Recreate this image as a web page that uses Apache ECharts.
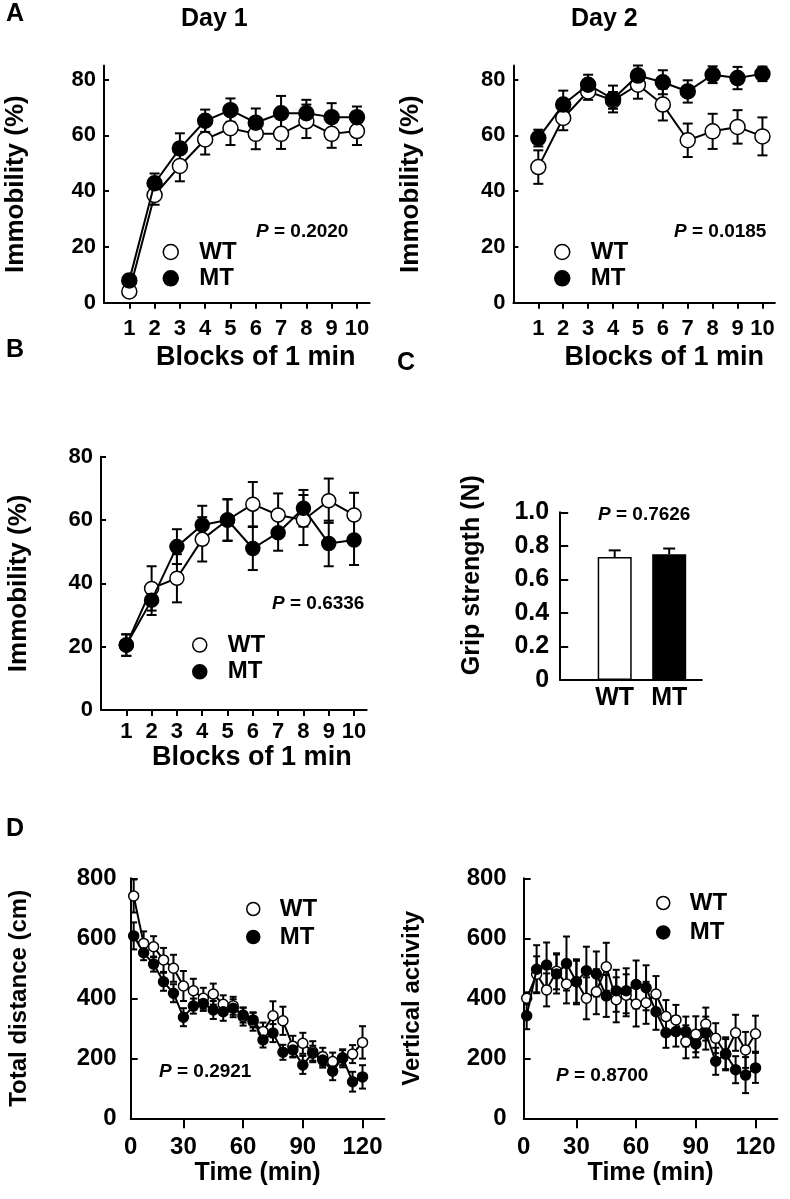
<!DOCTYPE html>
<html><head><meta charset="utf-8">
<script src="https://cdn.jsdelivr.net/npm/echarts@6/dist/echarts.min.js"></script>
<style>html,body{margin:0;padding:0;background:#fff}#c{width:790px;height:1199px}</style>
</head><body><div id="c"></div>
<script>
// ---------- data ----------
const blocks = [1,2,3,4,5,6,7,8,9,10];
const day1WT    = [4, 38.6, 49, 58.5, 62.5, 60.5, 60.5, 65, 60.5, 61.5];
const day1WTerr = [1.5, 3.5, 5.5, 5.4, 6, 5.5, 5.4, 6, 5, 5];
const day1MT    = [8, 42.8, 55.3, 65.2, 69, 64.5, 67.9, 67.9, 66.5, 66.5];
const day1MTerr = [2, 3.5, 5.4, 4, 4.2, 5.1, 6.2, 4.8, 5, 3.8];
const day2WT    = [48.6, 66.2, 75.7, 72.5, 78.1, 71, 58.2, 61.4, 63, 59.6];
const day2WTerr = [6, 4.4, 3, 3, 5, 5.7, 6, 6.3, 6, 6.8];
const day2MT    = [59, 71, 78.1, 73, 81.4, 79, 75.7, 81.7, 80.5, 82];
const day2MTerr = [3, 5, 3.6, 4.8, 3.6, 4.3, 4, 3, 4, 2.6];
const bWT    = [20.5, 38.4, 41.6, 53.9, 60, 65, 61.6, 60, 66.1, 61.6];
const bWTerr = [3.4, 7, 7.6, 7, 6.5, 7, 6.8, 7.9, 7, 7];
const bMT    = [20.5, 34.7, 51.6, 58.4, 60, 51, 56, 63.7, 52.6, 53.7];
const bMTerr = [3.4, 4.7, 5.5, 6.1, 6.6, 6.8, 5.7, 5.8, 7.2, 7.9];
const gripGroups = ['WT', 'MT'];
const gripMean = [0.733, 0.75];
const gripErr  = [0.04, 0.034];
const times = [5,10,15,20,25,30,35,40,45,50,55,60,65,70,75,80,85,90,95,100,105,110,115,120];
const distWT    = [741, 583, 572, 528, 500, 441, 425, 400, 414, 380, 375, 339, 322, 289, 342, 325, 240, 250, 222, 205, 189, 200, 214, 253];
const distWTerr = [55, 40, 35, 40, 45, 50, 40, 35, 35, 30, 30, 30, 30, 30, 48, 47, 35, 35, 35, 30, 30, 30, 30, 54];
const distMT    = [608, 552, 514, 455, 417, 337, 374, 383, 361, 355, 367, 344, 328, 261, 284, 220, 228, 178, 217, 194, 157, 202, 122, 138];
const distMTerr = [45, 25, 25, 30, 30, 30, 25, 25, 30, 30, 30, 25, 25, 25, 30, 25, 25, 30, 25, 25, 30, 25, 33, 39];
const vertWT    = [400, 480, 428, 490, 448, 455, 400, 422, 505, 395, 410, 381, 385, 414, 339, 328, 255, 280, 314, 267, 215, 285, 228, 282];
const vertWTerr = [20, 60, 55, 60, 65, 70, 70, 75, 80, 75, 70, 75, 70, 60, 55, 50, 55, 60, 55, 50, 55, 60, 60, 60];
const vertMT    = [342, 497, 511, 481, 516, 455, 492, 481, 408, 425, 425, 446, 435, 355, 285, 289, 289, 248, 284, 190, 214, 162, 144, 168];
const vertMTerr = [45, 80, 75, 65, 90, 75, 80, 75, 70, 70, 75, 80, 75, 60, 50, 50, 50, 45, 55, 45, 50, 45, 60, 50];
const immTicks = [0, 20, 40, 60, 80];
const timeTicks = [30, 60, 90, 120];
const pValues = ['0.2020', '0.0185', '0.6336', '0.7626', '0.2921', '0.8700'];

// ---------- helpers ----------
const FONT = '"Liberation Sans", Arial, Helvetica, sans-serif';
const BLACK = '#000';
const bold = (size) => ({fontFamily: FONT, fontWeight: 'bold', fontSize: size, color: BLACK});
const pairs = (xs, ys) => xs.map((x, i) => [x, ys[i]]);

function errSeries(idx, xs, ys, es, cap, upOnly) {
  return {
    type: 'custom', xAxisIndex: idx, yAxisIndex: idx, z: 2, silent: true, animation: false,
    data: xs.map((x, i) => [x, upOnly ? ys[i] : ys[i] - es[i], ys[i] + es[i]]),
    renderItem(params, api) {
      const x = api.value(0);
      const lo = api.coord([x, api.value(1)]);
      const hi = api.coord([x, api.value(2)]);
      const st = {stroke: BLACK, lineWidth: 2};
      const ch = [
        {type: 'line', shape: {x1: lo[0], y1: lo[1], x2: hi[0], y2: hi[1]}, style: st},
        {type: 'line', shape: {x1: hi[0] - cap, y1: hi[1], x2: hi[0] + cap, y2: hi[1]}, style: st}
      ];
      if (!upOnly) ch.push({type: 'line', shape: {x1: lo[0] - cap, y1: lo[1], x2: lo[0] + cap, y2: lo[1]}, style: st});
      return {type: 'group', children: ch};
    }
  };
}
function lineSeries(idx, name, xs, ys, size, filled) {
  return {
    type: 'line', name, xAxisIndex: idx, yAxisIndex: idx, data: pairs(xs, ys),
    symbol: 'circle', symbolSize: size, showSymbol: true, showAllSymbol: true, z: filled ? 4 : 3,
    lineStyle: {color: BLACK, width: 2},
    itemStyle: {color: filled ? BLACK : '#fff', borderColor: BLACK, borderWidth: 1.5},
    emphasis: {disabled: true}, animation: false
  };
}
const axLine = {show: true, onZero: false, lineStyle: {color: BLACK, width: 2}};

function blockX(idx, margin, nameGap, shift) {
  return {
    type: 'value', gridIndex: idx, min: 0, max: 10.5,
    axisLine: axLine,
    axisTick: {show: true, customValues: blocks, length: 6, lineStyle: {color: BLACK, width: 2}},
    axisLabel: {customValues: blocks, margin: margin, ...bold(22)},
    splitLine: {show: false},
    name: 'Blocks of 1 min', nameLocation: 'middle', nameGap: nameGap,
    nameTextStyle: {...bold(27), padding: [0, 0, 0, shift]}
  };
}
function immY(idx, max, nameGap) {
  return {
    type: 'value', gridIndex: idx, min: 0, max: max,
    axisLine: axLine,
    axisTick: {show: true, inside: true, customValues: immTicks, length: 5, lineStyle: {color: BLACK, width: 2}},
    axisLabel: {customValues: immTicks, margin: 8, ...bold(22)},
    splitLine: {show: false},
    name: 'Immobility (%)', nameLocation: 'middle', nameGap: nameGap, nameTextStyle: bold(26)
  };
}
function timeX(idx) {
  const start = 3.5;
  return {
    type: 'value', gridIndex: idx, min: start, max: 131,
    axisLine: axLine,
    axisTick: {show: true, customValues: timeTicks, length: 10, lineStyle: {color: BLACK, width: 2}},
    axisLabel: {customValues: [start].concat(timeTicks), formatter: v => (v === start ? '0' : String(v)), margin: 17, ...bold(24)},
    splitLine: {show: false},
    name: 'Time (min)', nameLocation: 'middle', nameGap: 41, nameTextStyle: bold(25)
  };
}
function dY(idx, name, margin, nameGap) {
  return {
    type: 'value', gridIndex: idx, min: 0, max: 800, interval: 200,
    axisLine: axLine,
    axisTick: {show: true, inside: true, length: 7, lineStyle: {color: BLACK, width: 2}},
    axisLabel: {margin: margin, ...bold(24)},
    splitLine: {show: false},
    name: name, nameLocation: 'middle', nameGap: nameGap, nameTextStyle: bold(24)
  };
}
function legend(left, top, size, gap, pad, font) {
  return {
    left, top, orient: 'vertical', icon: 'circle', itemWidth: size, itemHeight: size, itemGap: gap,
    data: ['WT', 'MT'], selectedMode: false, padding: 0,
    itemStyle: {borderColor: BLACK, borderWidth: 1.5},
    textStyle: {...bold(font), padding: [0, 0, 0, pad], lineHeight: font}
  };
}
function pText(x, y, v) {
  return {type: 'text', left: x, top: y, style: {
    text: '{i|P} = ' + v, font: 'bold 19px ' + FONT, fill: BLACK,
    rich: {i: {fontStyle: 'italic', fontWeight: 'bold', fontSize: 19, fontFamily: FONT, fill: BLACK}}
  }};
}
function label(x, y, t, size) {
  return {type: 'text', left: x, top: y, style: {text: t, font: 'bold ' + size + 'px ' + FONT, fill: BLACK}};
}

const chart = echarts.init(document.getElementById('c'));
chart.setOption({
  backgroundColor: '#fff',
  animation: false,
  grid: [
    {left: 104, top: 65.5, width: 265.6, height: 237.2},
    {left: 513.4, top: 65.5, width: 261.5, height: 237.2},
    {left: 101, top: 456.7, width: 265.7, height: 253.3},
    {left: 560.2, top: 512.3, width: 141.7, height: 167.7},
    {left: 130.7, top: 878.3, width: 253.7, height: 240},
    {left: 523.7, top: 878.3, width: 253.7, height: 240}
  ],
  xAxis: [
    blockX(0, 15, 41, 38), blockX(1, 15, 41, 40), blockX(2, 11, 34, 36),
    {type: 'value', gridIndex: 3, min: 0, max: 2.6, axisLine: axLine, axisTick: {show: false},
     axisLabel: {customValues: [1, 2], formatter: v => gripGroups[v - 1], margin: 6, ...bold(25)}, splitLine: {show: false}},
    timeX(4), timeX(5)
  ],
  yAxis: [
    immY(0, 85, 75), immY(1, 85, 90), immY(2, 80, 69),
    {type: 'value', gridIndex: 3, min: 0, max: 1, interval: 0.2, axisLine: axLine,
     axisTick: {show: true, inside: true, length: 8, lineStyle: {color: BLACK, width: 2}},
     axisLabel: {formatter: v => (v === 0 ? '0' : v.toFixed(1)), margin: 11, ...bold(25)}, splitLine: {show: false},
     name: 'Grip strength (N)', nameLocation: 'middle', nameGap: 76, nameTextStyle: {...bold(25), padding: [0, 0, 0, 42]}},
    dY(4, 'Total distance (cm)', 14, 99), dY(5, 'Vertical activity', 17, 99)
  ],
  legend: [
    legend(162.5, 240, 15, 2.3, 16, 24),
    legend(554, 240, 15, 2.3, 16, 24),
    legend(192, 633, 14, 2.7, 16, 24),
    legend(246, 897, 13, 4, 15, 24),
    legend(656, 891, 13, 5.4, 15, 24)
  ],
  graphic: [
    label(6, 2, 'A', 25), label(6, 338, 'B', 25), label(397, 351, 'C', 25), label(6, 817, 'D', 25),
    label(181, 7, 'Day 1', 25), label(571, 7, 'Day 2', 25),
    pText(256, 222, pValues[0]), pText(674, 222, pValues[1]), pText(272, 594, pValues[2]),
    pText(598, 505, pValues[3]), pText(159, 1062, pValues[4]), pText(556, 1066, pValues[5])
  ],
  series: [
    errSeries(0, blocks, day1WT, day1WTerr, 5), errSeries(0, blocks, day1MT, day1MTerr, 5),
    lineSeries(0, 'WT', blocks, day1WT, 15, false), lineSeries(0, 'MT', blocks, day1MT, 15, true),
    errSeries(1, blocks, day2WT, day2WTerr, 5), errSeries(1, blocks, day2MT, day2MTerr, 5),
    lineSeries(1, 'WT', blocks, day2WT, 15, false), lineSeries(1, 'MT', blocks, day2MT, 15, true),
    errSeries(2, blocks, bWT, bWTerr, 5), errSeries(2, blocks, bMT, bMTerr, 5),
    lineSeries(2, 'WT', blocks, bWT, 14, false), lineSeries(2, 'MT', blocks, bMT, 14, true),
    {type: 'bar', xAxisIndex: 3, yAxisIndex: 3, barWidth: 34, z: 3, animation: false, silent: true,
     data: gripMean.map((v, i) => ({value: [i + 1, v], itemStyle: {color: i === 0 ? '#fff' : BLACK, borderColor: BLACK, borderWidth: 1.5}}))},
    errSeries(3, [1, 2], gripMean, gripErr, 6, true),
    errSeries(4, times, distWT, distWTerr, 3.5), errSeries(4, times, distMT, distMTerr, 3.5),
    lineSeries(4, 'WT', times, distWT, 10, false), lineSeries(4, 'MT', times, distMT, 10, true),
    errSeries(5, times, vertWT, vertWTerr, 3.5), errSeries(5, times, vertMT, vertMTerr, 3.5),
    lineSeries(5, 'WT', times, vertWT, 10, false), lineSeries(5, 'MT', times, vertMT, 10, true)
  ]
});
</script>
</body></html>
